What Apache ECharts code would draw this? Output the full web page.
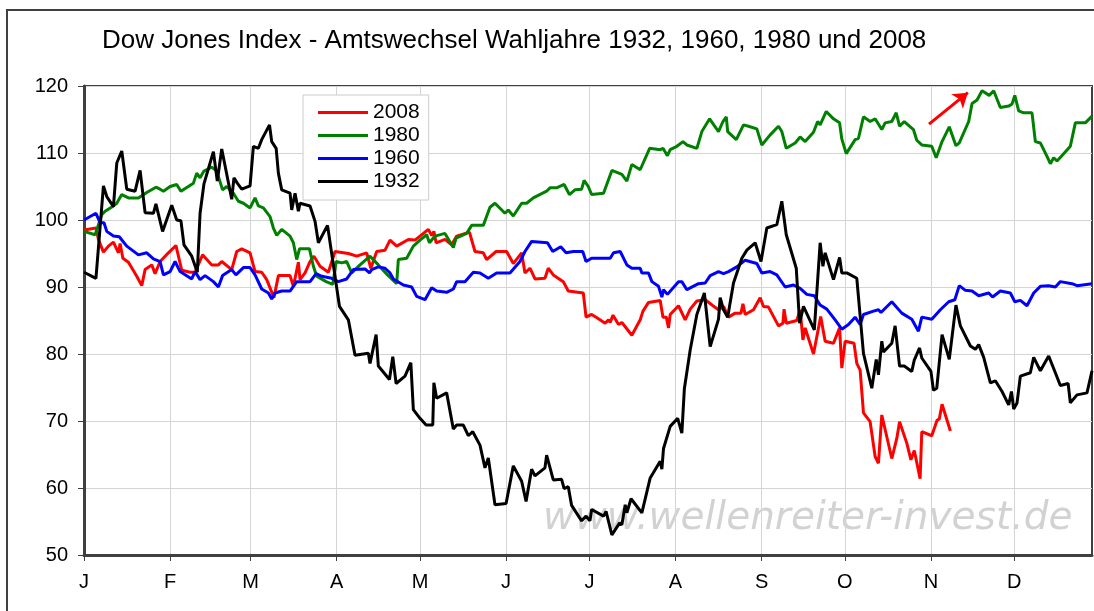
<!DOCTYPE html>
<html>
<head>
<meta charset="utf-8">
<title>Dow Jones Index</title>
<script src="https://cdn.jsdelivr.net/npm/echarts@6/dist/echarts.min.js"></script>
<style>
html,body{margin:0;padding:0;background:#fff;}
#djChart{width:1094px;height:611px;}
</style>
</head>
<body>
<div id="djChart"></div>
<script>
// x = Tag im Jahr (Schaltjahr), y = Index
const monthStarts = [0,31,60,91,121,152,182,213,244,274,305,335];
const monthLetters = ["J","F","M","A","M","J","J","A","S","O","N","D"];

const days2008 = [0,4.3,5.2,7,8.8,10.6,12.4,13,14,16,19,20.8,22,24.4,25.6,27.4,30.4,33.1,35.2,38.2,40,42.7,46,48.4,49.6,53.2,55,56.8,59.8,
61.6,64,65.8,68.4,70,74.2,75.4,77.2,77.8,79.6,81.4,82.8,85,88,90.4,95.2,98.2,101.8,103.3,105.4,108.4,110.2,112.6,116.8,119.2,121,
124,125.2,126,126.8,130,132.4,134.2,138.8,140.8,143.8,145,148.4,152.2,154.6,157.6,158.8,160.6,162.4,166,167.2,169,172.6,174.4,179.8,180.8,182.8,
184.7,187.7,188.9,189.5,190.5,192.5,193.7,197.3,200.3,201.3,203.3,207.5,208.5,209.7,210.5,211.1,214.1,216.5,218.3,220.7,223.7,226.5,228.5,230.3,232.1,234.5,236.6,237.3,238.1,241.1,243.5,
244.7,246.5,250.1,251.7,252.1,252.9,256.7,257.9,258.9,259.7,262.7,265.3,266.9,269.9,272.1,272.9,274.1,277.3,278.3,279.5,280.7,283.1,284.9,286.1,287.3,290.9,292.7,293.7,296.3,297.8,299,301.1,301.7,305.3,307.2,308,309,312];
const dow2008 = [98.5,98.8,97.1,95.2,96.1,96.7,95.1,96.5,94.3,93.7,91.6,90.2,92.6,93.3,92,93.8,95.1,96.2,92.5,92.2,92.2,94.8,93.3,93.3,93.8,92.6,95.3,95.7,95.1,
92.3,92.2,91.1,88.4,91.7,91.7,90.1,93.7,91.1,92.1,93.8,94.6,93.1,92.2,95.3,95,94.6,95.1,92.8,95.3,95.5,97,96.1,97.1,97,97.6,
98.6,97.7,98.3,96.6,97.1,96.3,97.6,98.2,95.3,95.1,94.1,95.3,95.3,93.5,95.1,92.1,92.8,91.2,91.3,92.8,91.8,90.8,89.4,89.1,85.5,85.9,
85.4,84.6,85.1,84.7,85.8,84.4,84.7,82.8,85.1,86.4,87.7,88,85.5,85.5,83.9,85.9,87.2,85.1,86.7,87.9,88.1,87.2,86.6,87.1,85.5,86.1,86.1,87.5,85.9,86.6,88.4,
87.1,87,84.2,84.6,86.7,84.6,85,86.6,82.1,83.9,80,85.6,81.9,81.6,83.9,77.9,81.9,81.6,78.6,77.6,71.2,69.9,64.7,63.7,70.9,64.4,67.4,69.9,66.7,64.2,65.6,61.4,68.4,67.8,70.1,70.3,72.5,68.5];

const days1980 = [0,4,6.4,7.6,10.6,11.8,13.6,16,19.6,22.6,25.9,27.4,28.6,31,33.4,34.9,39.4,40.6,41.8,43.2,46,47.8,49.9,51.4,53.8,55.6,57.4,59.8,
61.6,62.8,64.6,67,68.2,69.4,71.2,74.2,75.4,76.6,77.6,81.2,82.6,83.8,87.2,89.6,90.8,92.8,94.6,96.4,99.4,103,106,109.3,112.6,113.2,116.2,118.6,121,
123.4,124.4,126.4,130,133,134,137.8,139.6,143.8,146.2,148,151.6,152.8,154.6,157.6,159.4,161.8,166.6,167.8,170.2,172.9,174.8,176.8,179.2,180.1,181.6,182.8,
187.1,190.1,193.7,195.5,197.3,200.3,203.7,207.5,208.5,210.1,211.1,213.5,215.7,217.1,220.7,222.5,225.3,228.5,230.1,231.3,231.8,234.9,237.5,239.3,242.3,244.1,247.1,
250.1,251.3,252.9,256.1,257.9,259.7,262.7,264.2,265.1,267.3,269.9,272.1,272.9,274.5,277.7,278.9,280.7,283.1,284.9,287.3,288.5,290.9,292.5,293.7,295.4,298.7,299.9,301.7,305.3,306.9,
309,311.6,314,315.2,318.6,319.8,321.6,323.4,326,327.6,330,333,334.2,335.2,336.6,338.4,341.4,342.6,344.4,346.8,348,349.2,350.4,352.8,355.2,357,360.6,363];
const dow1980 = [98.3,97.8,100.8,101.3,102.1,102.5,103.8,103.3,103.3,104.1,104.9,104.6,104.3,105,105.3,104.3,105.5,107,106.3,107.3,107.9,107.3,104.5,105,104,102.8,102.5,101.8,
103.3,102.1,101.8,100.5,98.8,97.7,98.6,97.6,96.6,94.1,95.7,95.7,93.1,91.6,90.8,90.4,93.8,93.6,93.8,92.1,93.3,94.6,93.3,91.8,90.5,94.1,94.3,96.1,97,
97.8,96.6,97.6,98,95.9,97.3,98,99.2,99.2,101.9,102.5,101,101.5,100.6,102.5,102.5,103.3,104.3,104.8,104.8,105.3,103.8,104.5,104.6,105.9,105,103.8,
104,107.4,106.8,105.8,108.3,107.5,110.7,110.5,110.7,109.6,110.5,111,111.7,111.2,110.7,113.2,115.1,113.2,114.7,115.4,113.2,112,114.2,114,113.6,111.2,112.7,
114,113.2,110.7,111.5,112.4,111.7,113.1,114.7,114.2,116.2,115.1,114.5,112.1,109.9,112,112.2,115.4,114.7,115.1,113.5,114.5,114.7,116,114,114.7,113.5,111.9,111.2,111,109.3,
111.7,113.9,111.1,111.5,114.7,117.4,117.9,119.3,118.6,119.3,116.8,117,117.3,118.6,116.3,116,116,111.7,111.5,109.5,108.4,109.3,108.8,109.9,111,114.5,114.5,115.5];

const days1960 = [0,4.3,5.8,7.2,8.2,10.6,12.7,15.4,19.6,22.6,25,27.4,28.6,31,32.8,34.6,38.8,40,41.8,43.6,46.6,48.4,49.9,53.2,54.7,57.4,59.8,
61.6,64,66.4,67.6,68.8,71.2,74.2,76.6,81.4,83.6,85.6,89.2,91.6,94.6,97,101.2,102.8,103.6,106,108.4,110.2,111.4,115,118,119.8,
122.8,125.2,127,130.6,133,134.2,137.2,140.2,142.6,145.6,148.6,153.4,157,158.8,161.2,166.9,168.8,171.7,173.6,176.2,179.6,180.8,182.8,
189.5,190.7,193.1,195.5,197.3,200.3,200.9,203.3,204.5,206.9,208.1,208.7,210.1,214.1,215.3,217.1,221.3,223.7,225.5,228.5,230.3,232.1,235.1,238.1,242.3,244.1,247.1,
249.5,252.5,255.5,257.9,260.3,263,265.1,267.5,270.5,272.9,275.3,277.7,279.5,280.7,284.3,286.1,287,290.9,294.5,298.1,300.5,301.7,305.3,
308.4,311.4,313.6,315.2,317.4,319.8,322.2,325.8,327.2,330,333.6,335.2,337.2,339.6,342,344.4,347.4,349.8,351.6,355.8,357.6,363];
const dow1960 = [100,101,99.6,99.6,98.3,97.6,97.5,96.1,94.8,95.1,94.2,93.8,91.8,92.3,93.8,92.3,91.2,92.3,91.1,91.7,90.8,90,91.7,92.6,91.8,92.9,92.9,
91.8,89.7,89.1,88.2,89.1,89.4,89.4,90.8,90.8,92,91.6,91.3,90.8,91.2,92.6,92.7,92.1,92.6,93,92.8,92.1,91.2,90.3,90,88.6,
88.1,89.9,89.4,89.2,89.7,90.8,90.8,92.2,92.1,91.3,92.1,92.1,93.8,95.3,96.8,96.6,95.3,96,95.1,95.3,95.3,93.8,94.3,
94.3,95.1,95.3,93.3,92.8,92.8,92.1,92.1,90.8,90.1,88.5,89.6,88.9,90.8,90.8,89.6,90.5,90.6,91.7,92.3,92,92.3,93,94,93.5,92.1,92.3,
91.8,90,90.3,89.8,88.9,88.7,87.3,86.7,85.1,83.7,84.4,85.5,84.4,85.9,86.4,86.6,86.2,87.8,86.1,85.2,83.4,85.5,85.2,
86.6,87.8,88.1,90.2,89.5,89.4,88.7,89.1,88.5,89.4,89.1,87.8,88,87.2,89.1,90.1,90.2,90,90.8,90.5,90.2,90.5];

const days1932 = [0,4.3,7,8.2,10.6,11.8,13.6,15.4,18.4,20.2,22,25,25.9,28.3,31.6,33.4,34.9,36,38.8,40.8,41.8,43.2,46.6,48,49.6,53.2,54,55.2,56.8,59.8,
61,62.8,64,66.8,67.6,69.2,70,71.2,74.2,74.8,76,77.2,77.8,81.4,83.2,84.4,87.7,92,95.2,97.6,102.4,103,105.2,106,110,111.2,112.4,115.6,117.7,118.6,121,123.2,
125.6,126,127,130.6,133,134.2,136.6,138.4,140,142.6,144.4,145.6,148,152,154.6,157.6,159.2,161.2,162.4,166,166.6,169,172,172.9,174.4,175.6,179.2,180.8,182.2,182.8,
187.1,188,190.1,192.9,193.7,194.9,195.5,197,200.9,203.9,207.5,208.1,208.7,211.1,213.8,215.3,216.2,218.3,220.7,221.7,223.4,225.5,228.5,229.1,230.3,231.8,233.9,236.9,238.7,241.7,243.8,
245.9,249.5,251.3,252.9,256.5,257.7,259.1,263,265.1,266.1,266.9,269.9,272.1,272.9,274.7,278.3,280.7,283.7,285.3,286.1,287.3,287.9,290.9,292.1,293.7,295.4,298.1,299,300.9,301.7,305,305.9,307.1,
309,311.6,314,315.6,319.2,321,322.2,324,326.4,328.2,330.6,333,334,334.8,336,337.2,340.8,342,344.4,347.4,349.8,351.6,354.4,355.2,357.6,361.2,363];
const dow1932 = [92.2,91.3,105.1,103.5,102,108.5,110.3,104.6,104.3,107.4,101.1,101,102.4,98.3,102.2,100,99.9,96.3,94.6,92.2,101,105.4,110.2,105.8,110.6,103.1,106.3,105.5,104.6,105.1,
111,110.7,112,114.2,111.7,110.7,107,104.5,104,101.5,104,101.3,102.5,102.1,99.8,96.6,99.2,87.1,85.1,79.8,80.1,78.6,82.9,78.2,76.2,79.6,75.6,76.7,78.7,71.7,70.4,69.4,
69.4,75.7,73.4,74.2,68.8,69.4,69.4,67.8,68.4,66.4,63,64.5,57.5,57.7,63.3,61,58,62.8,61.8,63,64.9,61.2,61.3,59.9,60.2,57.4,55.1,55.8,55.1,56.8,
55.8,56.5,53,54.8,54.5,57.5,56.3,58.4,56.3,61.5,64,62.8,65.9,69.2,70.4,68.2,74.8,80.6,85.9,87.1,89.1,81.1,85.2,88.4,86.6,85.5,90.6,94.3,95.5,96.6,93.8,
98.8,99.3,102.8,97.8,92.8,84.6,87.1,83.6,96.6,93.1,95.1,91.1,94.4,92.1,92.1,91.3,80.1,74.9,79.2,76.9,81.9,80.3,81.6,84.2,78.2,78.2,77.4,79.1,80.9,79.4,77.4,74.6,74.9,
82.9,79.2,87.3,84.2,81.2,80.7,81.4,79.5,75.7,76,74.4,72.4,74.4,71.8,72.7,76.7,77.2,79.5,77.5,79.7,77.2,75.3,75.6,72.7,73.9,74.2,77.5];

// roter Pfeil (Tag, Index)
const arrowFrom = [304.3, 114.3];
const arrowTo = [318.3, 119];

function pairs(days, vals){
  return days.map((d, i) => [d, vals[i]]);
}

function createDowChart(){

  const dom = document.getElementById("djChart");
  if(!dom) return;

  const chart = echarts.init(dom);
  const font = "'Liberation Sans', Arial, sans-serif";

  const line = (name, color, days, vals) => ({
    name: name,
    type: "line",
    symbol: "none",
    data: pairs(days, vals),
    lineStyle: { color: color, width: 3 },
    itemStyle: { color: color }
  });

  const s1980 = line("1980", "#008000", days1980, dow1980);
  s1980.markLine = {
    silent: true,
    symbol: ["none", "arrow"],
    symbolSize: 14,
    label: { show: false },
    lineStyle: { color: "#ff0000", width: 3, type: "solid" },
    data: [[{ coord: arrowFrom }, { coord: arrowTo }]]
  };

  chart.setOption({
    animation: false,
    backgroundColor: "#fff",
    title: {
      text: "Dow Jones Index - Amtswechsel Wahljahre 1932, 1960, 1980 und 2008",
      left: 97,
      top: 23,
      textStyle: { fontFamily: font, fontSize: 26, fontWeight: "normal", color: "#000" }
    },
    graphic: [
      {
        type: "rect",
        z: -10,
        shape: { x: 7, y: 10, width: 1200, height: 700 },
        style: { fill: null, stroke: "#404040", lineWidth: 2 }
      },
      {
        type: "text",
        z: -5,
        left: 543,
        top: 499,
        style: {
          text: "www.wellenreiter-invest.de",
          fill: "#d2d2d2",
          font: "italic 39px 'DejaVu Sans', Verdana, sans-serif"
        }
      }
    ],
    legend: {
      orient: "vertical",
      left: 303,
      top: 95,
      padding: [7, 9, 8, 15],
      icon: "rect",
      itemWidth: 50,
      itemHeight: 3,
      itemGap: 2,
      backgroundColor: "#fff",
      borderColor: "#cccccc",
      borderWidth: 1,
      data: ["2008", "1980", "1960", "1932"],
      textStyle: { fontFamily: font, fontSize: 21, lineHeight: 18, color: "#000" }
    },
    grid: {
      left: 84,
      right: 2,
      top: 86,
      bottom: 56,
      show: true,
      borderColor: "#404040",
      borderWidth: 2
    },
    xAxis: {
      type: "value",
      min: 0,
      max: 363,
      axisLine: { lineStyle: { color: "#404040", width: 3 } },
      axisTick: { show: true, length: 6, customValues: monthStarts, lineStyle: { color: "#404040" } },
      axisLabel: {
        customValues: monthStarts,
        margin: 17,
        fontFamily: font,
        fontSize: 20,
        color: "#000",
        formatter: v => monthLetters[monthStarts.indexOf(v)] || ""
      },
      splitLine: { show: true, lineStyle: { color: "#d4d4d4", width: 1 } }
    },
    yAxis: {
      type: "value",
      min: 50,
      max: 120,
      interval: 10,
      axisLine: { show: true, lineStyle: { color: "#404040", width: 3 } },
      axisTick: { show: true, length: 6, lineStyle: { color: "#404040" } },
      axisLabel: { margin: 16, fontFamily: font, fontSize: 20, color: "#000" },
      splitLine: { show: true, lineStyle: { color: "#d4d4d4", width: 1 } }
    },
    series: [
      line("2008", "#ff0000", days2008, dow2008),
      s1980,
      line("1960", "#0000ff", days1960, dow1960),
      line("1932", "#000000", days1932, dow1932)
    ]
  });

  window.addEventListener("resize", () => chart.resize());
}

createDowChart();
</script>
</body>
</html>
